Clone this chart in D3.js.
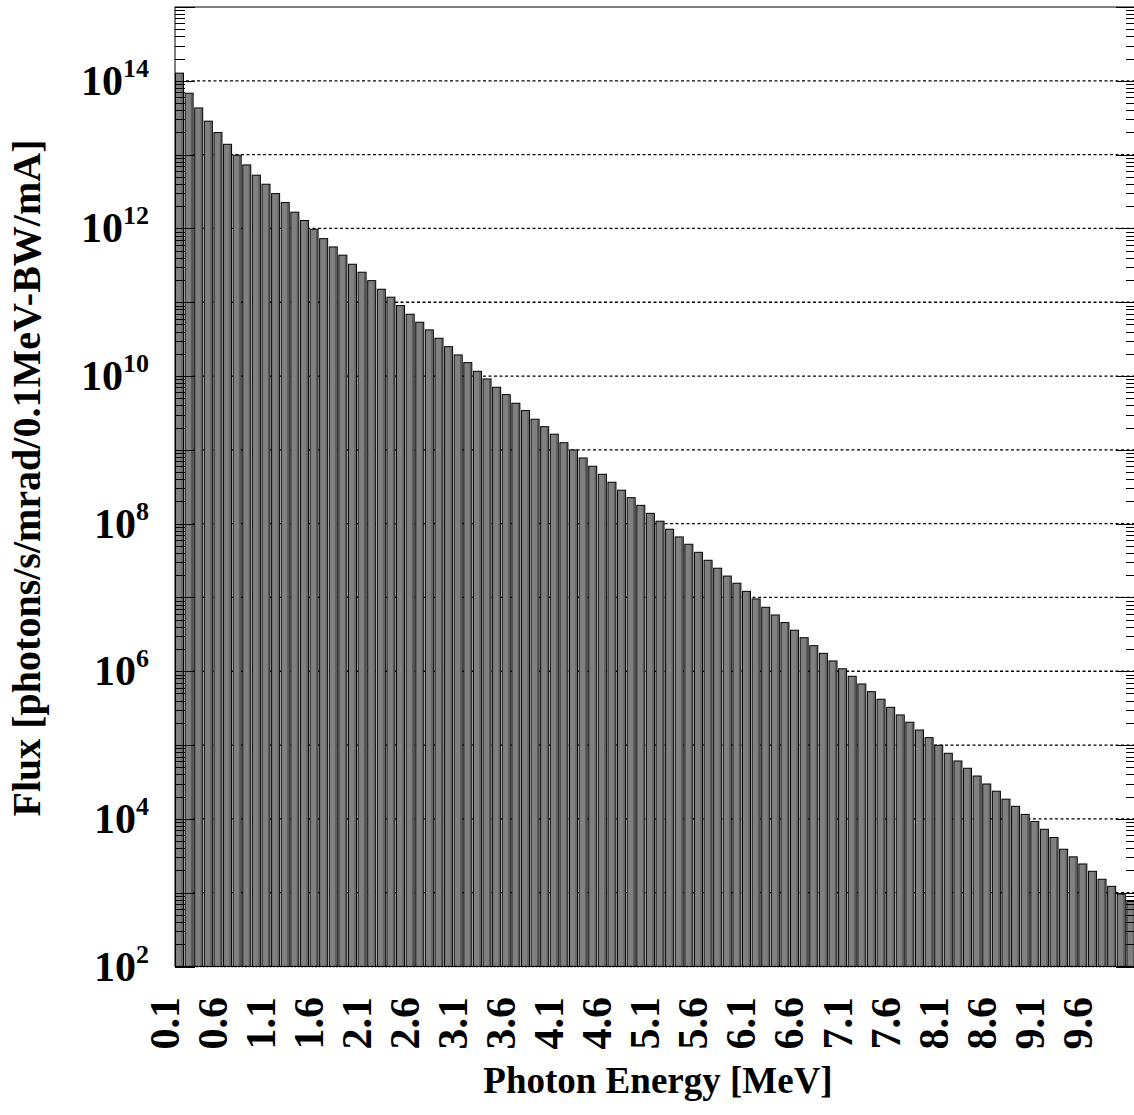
<!DOCTYPE html>
<html>
<head>
<meta charset="utf-8">
<script src="https://cdn.jsdelivr.net/npm/d3@7"></script>
<style>
  body { margin: 0; background: #fff; }
  text { font-family: "Liberation Serif", "Times New Roman", serif; font-weight: bold; }
</style>
</head>
<body>
<svg id="plot"></svg>
<script>
// photon energies, one bin per 0.1 MeV
const energies = d3.range(1, 101).map(i => (i / 10).toFixed(1));

// flux, bin by bin
const flux = [
  1.27e14, 6.79e13, 4.29e13, 2.84e13, 1.99e13, 1.38e13, 9.8e12, 7.25e12, 5.26e12, 3.97e12,
  2.96e12, 2.24e12, 1.66e12, 1.28e12, 9.75e11, 7.27e11, 5.61e11, 4.34e11, 3.27e11, 2.55e11,
  1.96e11, 1.50e11, 1.17e11, 9.0e10, 6.88e10, 5.36e10, 4.22e10, 3.25e10, 2.50e10, 1.93e10,
  1.52e10, 1.16e10, 9.14e9, 7.05e9, 5.60e9, 4.28e9, 3.40e9, 2.60e9, 2.06e9, 1.63e9,
  1.25e9, 9.97e8, 7.76e8, 6.0e8, 4.67e8, 3.64e8, 2.84e8, 2.25e8, 1.77e8, 1.38e8,
  1.08e8, 8.4e7, 6.61e7, 5.26e7, 4.09e7, 3.19e7, 2.49e7, 1.95e7, 1.56e7, 1.21e7,
  9.55e6, 7.36e6, 5.79e6, 4.56e6, 3.60e6, 2.85e6, 2.22e6, 1.75e6, 1.38e6, 1.08e6,
  8.55e5, 6.73e5, 5.29e5, 4.18e5, 3.25e5, 2.56e5, 2.04e5, 1.60e5, 1.26e5, 9.94e4,
  7.74e4, 6.09e4, 4.85e4, 3.81e4, 2.97e4, 2.37e4, 1.85e4, 1.48e4, 1.15e4, 9.22e3,
  7.23e3, 5.60e3, 3.88e3, 3.06e3, 2.45e3, 1.95e3, 1.52e3, 1.22e3, 960, 760
];

// every fifth bin gets a label
const xTickLabels = energies.filter((d, i) => i % 5 === 0);
const yLabelPowers = [2, 4, 6, 8, 10, 12, 14];
const gridPowers = d3.range(3, 15);

const W = 1134, H = 1115;
const plotLeft = 175, plotRight = 1136, plotBottom = 966.5, plotTop = 7;

const svg = d3.select("#plot").attr("width", W).attr("height", H);

const x = d3.scaleBand().domain(energies).range([plotLeft, plotRight]).padding(0);
const y = d3.scaleLog().domain([1e2, 1e15]).range([plotBottom, plotTop]);

// dotted grid at each decade, behind the bars
svg.append("g")
  .selectAll("line")
  .data(gridPowers)
  .join("line")
    .attr("x1", plotLeft).attr("x2", plotRight)
    .attr("y1", d => y(Math.pow(10, d))).attr("y2", d => y(Math.pow(10, d)))
    .attr("stroke", "#000")
    .attr("stroke-width", 1.3)
    .attr("stroke-dasharray", "3,2.5");

// bars
const bw = x.bandwidth();
const bars = svg.append("g");
bars.selectAll("rect")
  .data(flux)
  .join("rect")
    .attr("x", (d, i) => x(energies[i]) + 0.5)
    .attr("y", d => y(d))
    .attr("width", bw - 1.6)
    .attr("height", d => plotBottom - y(d))
    .attr("fill", "#808080")
    .attr("stroke", "#000")
    .attr("stroke-width", 1);
// darker shade near the right edge of each bar
bars.selectAll("line")
  .data(flux)
  .join("line")
    .attr("x1", (d, i) => x(energies[i]) + bw - 2.6)
    .attr("x2", (d, i) => x(energies[i]) + bw - 2.6)
    .attr("y1", d => y(d) + 1)
    .attr("y2", plotBottom)
    .attr("stroke", "#555")
    .attr("stroke-width", 1);

// frame
svg.append("rect")
  .attr("x", plotLeft).attr("y", plotTop)
  .attr("width", plotRight - plotLeft).attr("height", plotBottom - plotTop)
  .attr("fill", "none").attr("stroke", "#000").attr("stroke-width", 1);

// log ticks on left and right, pointing inward
const logTicks = [];
for (let p = 2; p < 15; p++) {
  for (let m = 1; m <= 9; m++) logTicks.push({ v: m * Math.pow(10, p), major: m === 1 });
}
logTicks.push({ v: 1e15, major: true });

const tickG = svg.append("g").attr("stroke", "#000").attr("stroke-width", 1);
tickG.selectAll(".lt")
  .data(logTicks)
  .join("line")
    .attr("class", "lt")
    .attr("x1", plotLeft).attr("x2", d => plotLeft + (d.major ? 20 : 10))
    .attr("y1", d => Math.round(y(d.v)) + 0.5).attr("y2", d => Math.round(y(d.v)) + 0.5);
tickG.selectAll(".rt")
  .data(logTicks)
  .join("line")
    .attr("class", "rt")
    .attr("x1", plotRight).attr("x2", d => plotRight - (d.major ? 20 : 10))
    .attr("y1", d => Math.round(y(d.v)) + 0.5).attr("y2", d => Math.round(y(d.v)) + 0.5);

// bottom axis, dotted look
svg.append("line")
  .attr("x1", plotLeft).attr("x2", plotRight)
  .attr("y1", plotBottom).attr("y2", plotBottom)
  .attr("stroke", "#000").attr("stroke-width", 1.5)
  .attr("stroke-dasharray", "2,1.5");

// y labels 10^n
const yl = svg.append("g")
  .selectAll("text")
  .data(yLabelPowers)
  .join("text")
    .attr("x", 149)
    .attr("y", d => y(Math.pow(10, d)) + 14)
    .attr("text-anchor", "end")
    .attr("font-size", 42);
yl.append("tspan").text("10");
yl.append("tspan").attr("font-size", 26).attr("dy", -18).text(d => d);

// x labels, rotated
svg.append("g")
  .selectAll("text")
  .data(xTickLabels)
  .join("text")
    .attr("transform", d => `translate(${x(d) + bw / 2 - 1},997) rotate(-90)`)
    .attr("text-anchor", "end")
    .attr("font-size", 42)
    .text(d => d);

// axis titles
svg.append("text")
  .attr("transform", `translate(40,478) rotate(-90)`)
  .attr("text-anchor", "middle")
  .attr("font-size", 40)
  .text("Flux [photons/s/mrad/0.1MeV-BW/mA]");

svg.append("text")
  .attr("x", 658).attr("y", 1093)
  .attr("text-anchor", "middle")
  .attr("font-size", 37)
  .text("Photon Energy [MeV]");
</script>
</body>
</html>
